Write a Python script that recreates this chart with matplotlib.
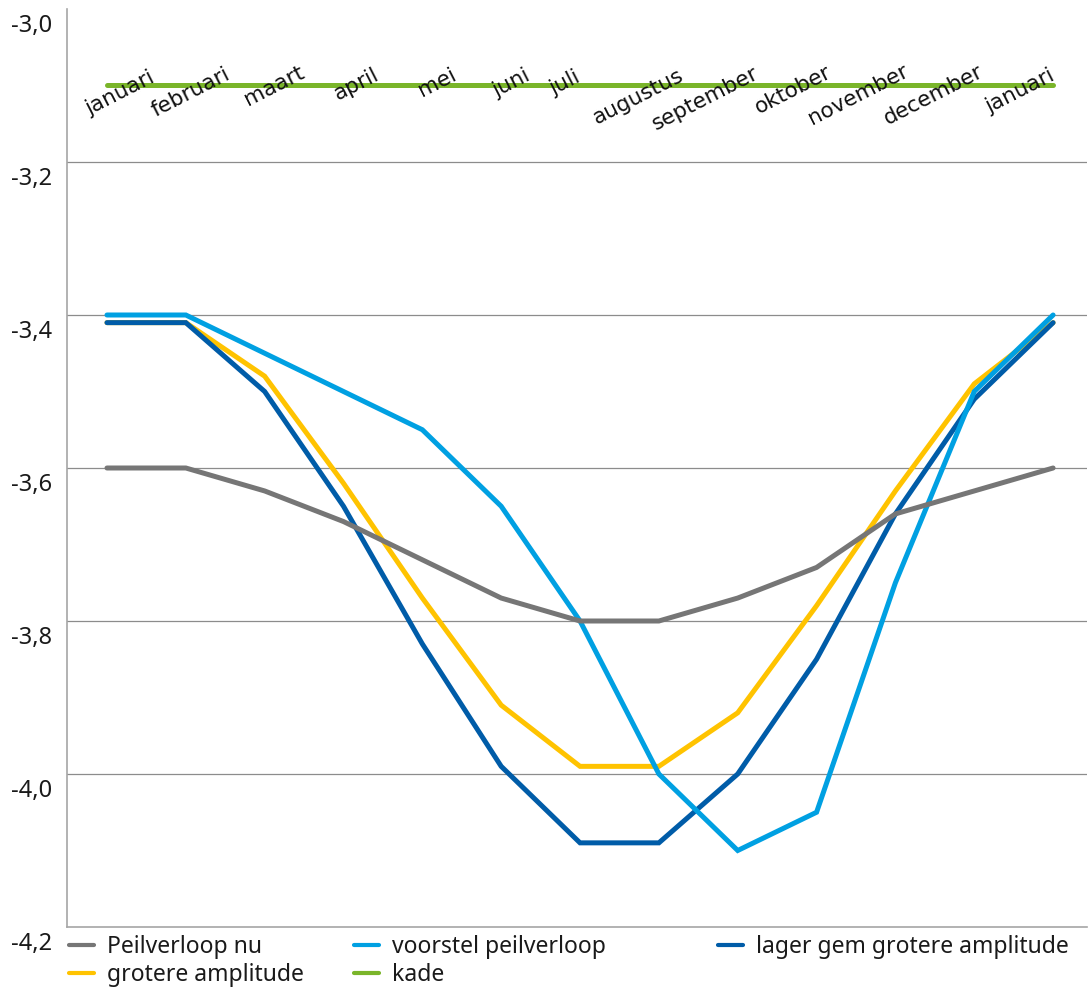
import matplotlib
matplotlib.use("Agg")
import matplotlib.pyplot as plt
import matplotlib.transforms as mtransforms
from matplotlib.lines import Line2D

# Maanden langs de horizontale as (jaar rond, januari t/m januari)
months = ["januari", "februari", "maart", "april", "mei", "juni", "juli",
          "augustus", "september", "oktober", "november", "december", "januari"]

# Peilen in m NAP per maand
peil_nu = [-3.60, -3.60, -3.63, -3.67, -3.72, -3.77, -3.80, -3.80, -3.77, -3.73, -3.66, -3.63, -3.60]
voorstel = [-3.40, -3.40, -3.45, -3.50, -3.55, -3.65, -3.80, -4.00, -4.10, -4.05, -3.75, -3.50, -3.40]
grotere_ampl = [-3.41, -3.41, -3.48, -3.62, -3.77, -3.91, -3.99, -3.99, -3.92, -3.78, -3.63, -3.49, -3.41]
lager_gem = [-3.41, -3.41, -3.50, -3.65, -3.83, -3.99, -4.09, -4.09, -4.00, -3.85, -3.66, -3.51, -3.41]
kade = [-3.10] * 13

y_ticks = [-3.0, -3.2, -3.4, -3.6, -3.8, -4.0, -4.2]

C_GREY = "#767676"
C_LBLUE = "#00a0e2"
C_DBLUE = "#005ca8"
C_YELLOW = "#ffc300"
C_GREEN = "#7ab52a"

W, H = 1089, 989
fig = plt.figure(figsize=(W / 100, H / 100), dpi=100)
ax = fig.add_axes([67 / W, 1 - 927 / H, (1087 - 67) / W, (927 - 9) / H])

x = list(range(len(months)))
lw = 3.6
series = {
    "Peilverloop nu": (peil_nu, C_GREY),
    "voorstel peilverloop": (voorstel, C_LBLUE),
    "lager gem grotere amplitude": (lager_gem, C_DBLUE),
    "grotere amplitude": (grotere_ampl, C_YELLOW),
    "kade": (kade, C_GREEN),
}
# stapelvolgorde van de lijnen (onderste eerst)
stack = ["grotere amplitude", "lager gem grotere amplitude", "voorstel peilverloop",
         "Peilverloop nu", "kade"]
for z, name in enumerate(stack):
    vals, col = series[name]
    ax.plot(x, vals, color=col, lw=lw, solid_capstyle="round", solid_joinstyle="miter",
            zorder=3 + z)

ax.set_xlim(-0.507, 12.43)
ax.set_ylim(-4.2, -3.0)
ax.set_yticks(y_ticks)
ax.set_yticklabels([f"{v:.1f}".replace(".", ",") for v in y_ticks],
                   fontsize=17, family="Noto Sans", color="#1a1a1a")
ax.tick_params(axis="y", length=0, pad=11)
offset = mtransforms.ScaledTranslation(0, -14 / 100, fig.dpi_scale_trans)
for lab in ax.get_yticklabels():
    lab.set_transform(lab.get_transform() + offset)
ax.set_xticks([])

for yv in y_ticks[1:-1]:
    ax.axhline(yv, color="#8c8c8c", lw=0.9, zorder=1)

for s in ["top", "right"]:
    ax.spines[s].set_visible(False)
ax.spines["left"].set_color("#a6a6a6")
ax.spines["bottom"].set_color("#a6a6a6")
ax.spines["left"].set_linewidth(1.2)
ax.spines["bottom"].set_linewidth(1.2)

# Maandnamen schuin langs de kadelijn
label_shift = [13, 5, 10, 13, 15, 10, -15, -21, -32, -23, -37, -41, -33]
label_dy = [-8, -7, 0, 1, 3, 2, 3, -11, -13, -4, -9, -9, -6]
for xi, (m, dx, dy) in enumerate(zip(months, label_shift, label_dy)):
    tr = ax.transData + mtransforms.ScaledTranslation(dx / 100, dy / 100, fig.dpi_scale_trans)
    ax.text(xi, -3.1, m, transform=tr, rotation=27, rotation_mode="anchor",
            ha="center", va="center", fontsize=15.5, family="DejaVu Sans",
            color="#111111", zorder=10)

# Legenda onder de grafiek, drie kolommen
columns = [(67, ["Peilverloop nu", "grotere amplitude"]),
           (352, ["voorstel peilverloop", "kade"]),
           (716, ["lager gem grotere amplitude"])]
for x0, names in columns:
    hs = [Line2D([], [], color=series[n][1], lw=3.0, solid_capstyle="round") for n in names]
    leg = fig.legend(hs, names, loc="upper left",
                     bbox_to_anchor=((x0 + 2) / W, 1 - 935 / H),
                     frameon=False, prop={"family": "Noto Sans", "size": 16.5},
                     handlelength=1.1, handletextpad=0.55,
                     labelspacing=0.18, borderpad=0, borderaxespad=0)
    for t in leg.get_texts():
        t.set_color("#1a1a1a")

fig.savefig("out.png", dpi=100)
